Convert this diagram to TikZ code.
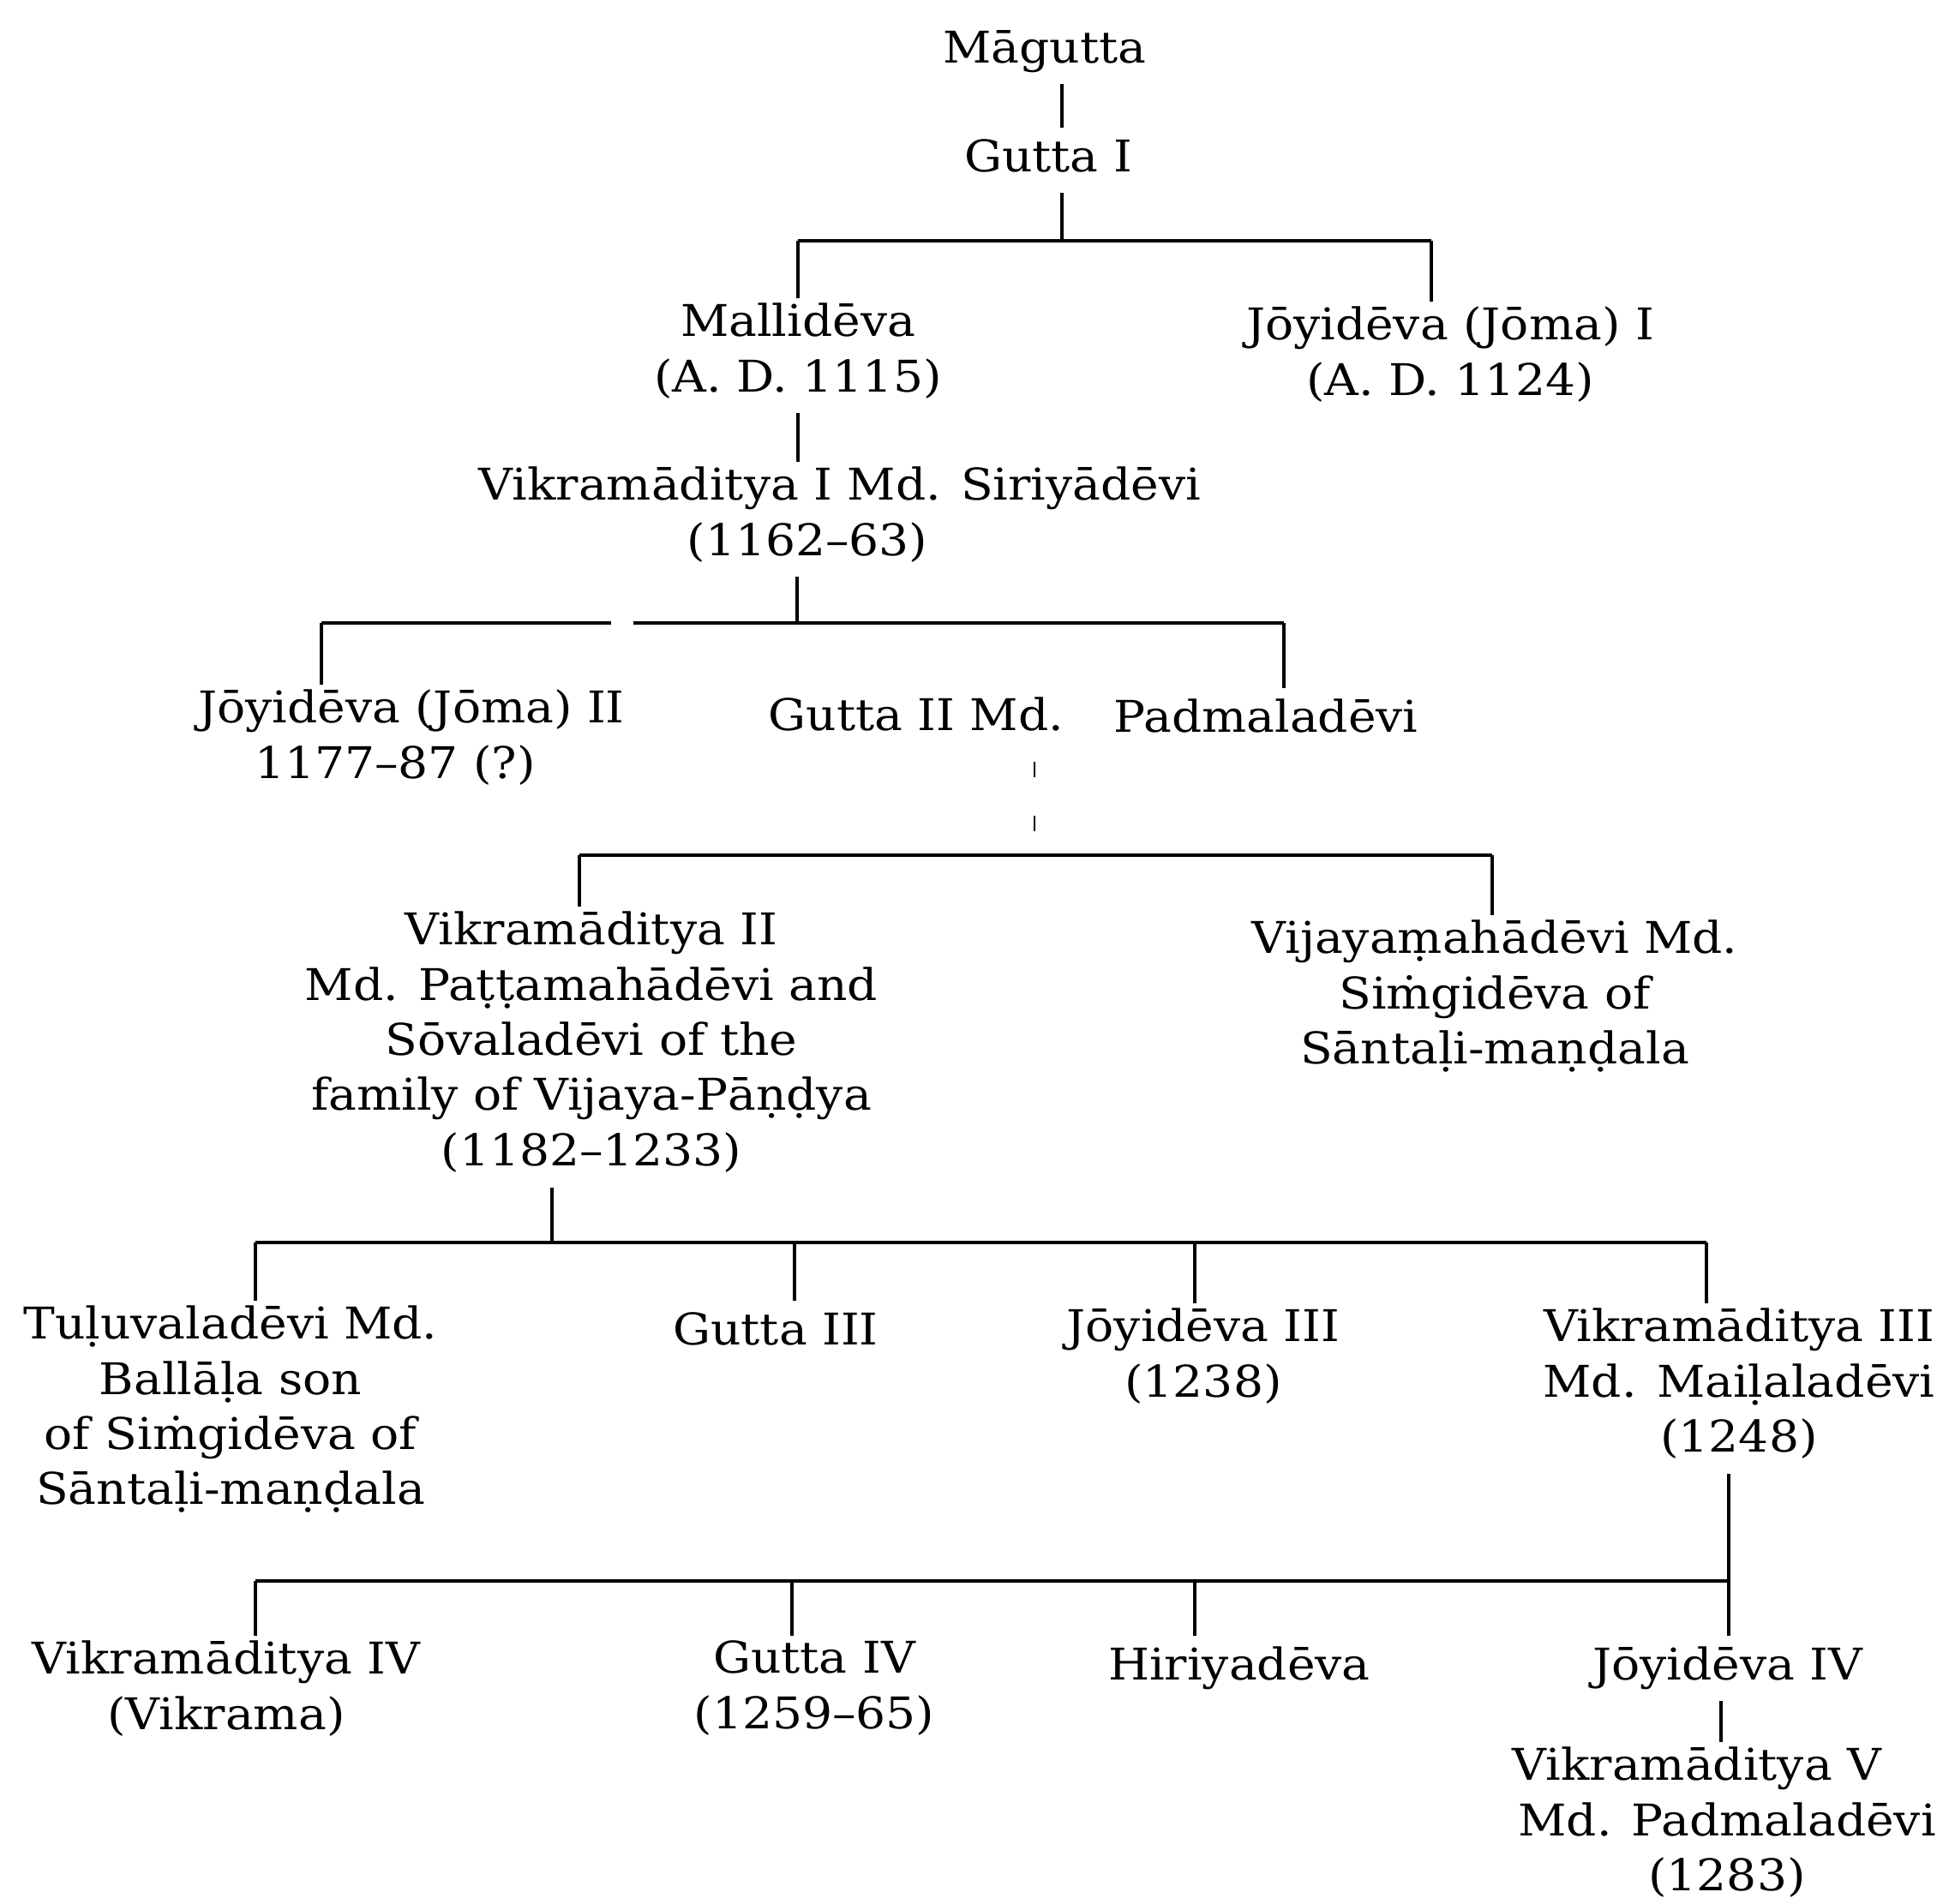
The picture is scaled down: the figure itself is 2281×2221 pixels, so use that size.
\documentclass[tikz,border=0pt]{standalone}
\usepackage{fontspec}
\newfontfamily\perfont[FakeStretch=1.08]{DejaVu Serif}
\begin{document}
\begin{tikzpicture}[x=0.25pt,y=-0.25pt,
  per/.style={anchor=north, align=center, inner sep=0pt, outer xsep=0pt, outer ysep=1.5pt,
    font=\perfont\fontsize{12.75pt}{16.1pt}\selectfont, execute at begin node=\strut},
  link/.style={line width=0.9pt},
  dotlink/.style={line width=0.6pt, dash pattern=on 4.5pt off 11.25pt, shorten <=3pt}]
\fill[white] (0,0) rectangle (2281,2221);
\useasboundingbox (0,0) rectangle (2281,2221);

% persons
\node[per] (magutta) at (1219,22) {Māgutta};
\node[per] (gutta1) at (1223,149) {Gutta I};
\node[per] (mallideva) at (931,348) {Mallidēva\\(A. D. 1115)\strut};
\node[per] (joyideva1) at (1692,352) {Jōyidēva (Jōma) I\\(A. D. 1124)};
\node[per] (vik1) at (980,539) {Vikramāditya I Md. Siriyādēvi\\(1162–63)\strut\kern19pt};
\node[per] (joyideva2) at (480,799) {Jōyidēva (Jōma) II\\1177–87 (?)\kern9.5pt};
\node[per] (gutta2) at (1069,801) {Gutta II Md.};
\node[per] (padma) at (1477,803) {Padmaladēvi};
\node[per] (vik2) at (690,1058) {Vikramāditya II\\Md. Paṭṭamahādēvi and\\Sōvaladēvi of the\\family of Vijaya-Pāṇḍya\\(1182–1233)\strut};
\node[per] (vijaya) at (1744,1068) {Vijayaṃahādēvi Md.\\Siṁgidēva of\\Sāntaḷi-maṇḍala};
\node[per] (tuluva) at (269,1518) {Tuḷuvaladēvi Md.\\Ballāḷa son\\of Siṁgidēva of\\Sāntaḷi-maṇḍala};
\node[per] (gutta3) at (905,1518) {Gutta III};
\node[per] (joyideva3) at (1404,1521) {Jōyidēva III\\(1238)};
\node[per] (vik3) at (2029,1521) {Vikramāditya III\\Md. Maiḷaladēvi\\(1248)\strut};
\node[per] (vik4) at (264,1909) {Vikramāditya IV\\(Vikrama)};
\node[per] (gutta4) at (950,1909) {Gutta IV\\(1259–65)};
\node[per] (hiriya) at (1446,1909) {Hiriyadēva};
\node[per] (joyideva4) at (2016,1909) {Jōyidēva IV};
\node[per] (vik5) at (2015,2033) {Vikramāditya V\kern17.5pt\\Md. Padmaladēvi\\(1283)};

% bar coordinates
\coordinate (aP) at (1239,281); \coordinate (aL) at (931,281); \coordinate (aR) at (1670,281);
\coordinate (bP) at (930,727); \coordinate (bL) at (375,727); \coordinate (bG1) at (713,727);
\coordinate (bG2) at (739,727); \coordinate (bR) at (1498,727);
\coordinate (cP) at (1207,998); \coordinate (cL) at (676,998); \coordinate (cR) at (1741,998);
\coordinate (dP) at (644,1450); \coordinate (dL) at (298,1450); \coordinate (d2) at (927,1450);
\coordinate (d3) at (1394,1450); \coordinate (dR) at (1991,1450);
\coordinate (eP) at (2017,1845); \coordinate (eL) at (298,1845); \coordinate (e2) at (924,1845);
\coordinate (e3) at (1394,1845);
\coordinate (fP) at (2008,1990);

% connectors
\draw[link] (magutta.south -| aP) -- (gutta1.north -| aP);
\draw[link] (gutta1.south -| aP) -- (aP);
\draw[link] (aL) -- (aR);
\draw[link] (aL) -- (mallideva.north -| aL);
\draw[link] (aR) -- (joyideva1.north -| aR);
\draw[link] (mallideva.south -| aL) -- (vik1.north -| aL);
\draw[link] (vik1.south -| bP) -- (bP);
\draw[link] (bL) -- (bG1);
\draw[link] (bG2) -- (bR);
\draw[link] (bL) -- (joyideva2.north -| bL);
\draw[link] (bR) -- (padma.north -| bR);
\draw[dotlink] (gutta2.south -| cP) -- (cP);
\draw[link] (cL) -- (cR);
\draw[link] (cL) -- (vik2.north -| cL);
\draw[link] (cR) -- (vijaya.north -| cR);
\draw[link] (vik2.south -| dP) -- (dP);
\draw[link] (dL) -- (dR);
\draw[link] (dL) -- (tuluva.north -| dL);
\draw[link] (d2) -- (gutta3.north -| d2);
\draw[link] (d3) -- (joyideva3.north -| d3);
\draw[link] (dR) -- (vik3.north -| dR);
\draw[link] (vik3.south -| eP) -- (eP);
\draw[link] (eL) -- (eP);
\draw[link] (eL) -- (vik4.north -| eL);
\draw[link] (e2) -- (gutta4.north -| e2);
\draw[link] (e3) -- (hiriya.north -| e3);
\draw[link] (eP) -- (joyideva4.north -| eP);
\draw[link] (joyideva4.south -| fP) -- (vik5.north -| fP);
\end{tikzpicture}
\end{document}
